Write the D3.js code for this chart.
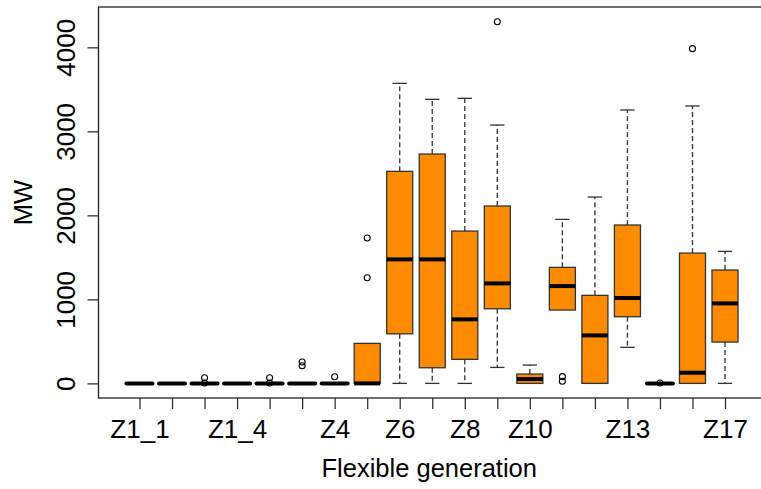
<!DOCTYPE html>
<html>
<head>
<meta charset="utf-8">
<script src="https://cdn.jsdelivr.net/npm/d3@7"></script>
<style>
  body { margin: 0; background: #fff; }
  text { font-family: "Liberation Sans", Arial, sans-serif; fill: #000; }
</style>
</head>
<body>
<svg width="761" height="489"></svg>
<script>
// one entry per zone (MW)
const zones = ["Z1_1", "Z1_2", "Z1_3", "Z1_4", "Z2", "Z3", "Z4", "Z5", "Z6", "Z7",
               "Z8", "Z9", "Z10", "Z11", "Z12", "Z13", "Z14", "Z15", "Z17"];
const shownLabels = ["Z1_1", "Z1_4", "Z4", "Z6", "Z8", "Z10", "Z13", "Z17"];

const lowWhisker  = [0, 0, 0, 0, 0, 0, 0, 0, 0, 0, 0, 190, 0, 873, 0, 429, 0, 0, 0];
const q1          = [0, 0, 0, 0, 0, 0, 0, 0, 590, 186, 286, 888, 0, 873, 0, 793, 0, 0, 492];
const median      = [0, 0, 0, 0, 0, 0, 0, 0, 1476, 1476, 762, 1190, 51, 1158, 571, 1016, 0, 127, 952];
const q3          = [0, 0, 0, 0, 0, 0, 0, 476, 2524, 2730, 1813, 2111, 111, 1381, 1048, 1885, 0, 1551, 1349];
const highWhisker = [0, 0, 0, 0, 0, 0, 0, 476, 3571, 3381, 3393, 3075, 218, 1952, 2218, 3254, 0, 3302, 1571];
const outliers    = [[], [], [5, 67], [], [5, 67], [210, 255], [79], [1257, 1730], [], [],
                     [], [4305], [], [25, 80], [], [], [5], [3984], []];

const yTicks = [0, 1000, 2000, 3000, 4000];

const svg = d3.select("svg"),
  width = +svg.attr("width"),
  height = +svg.attr("height");

const plot = {left: 98.5, right: 766, top: 7, bottom: 398};

const x = d3.scaleLinear()
  .domain([-0.26, zones.length + 1.26])
  .range([plot.left, plot.right]);

const y = d3.scaleLinear()
  .domain([-174, 4480])
  .range([plot.bottom, plot.top]);

const boxes = zones.map((name, i) => ({
  name, pos: i + 1,
  lo: lowWhisker[i], q1: q1[i], med: median[i], q3: q3[i], hi: highWhisker[i],
  out: outliers[i]
}));

const halfBox = 0.4, halfStaple = 0.22;

const g = svg.append("g");

const bx = g.selectAll(".box")
  .data(boxes)
  .join("g")
  .attr("class", "box");

// whiskers
bx.filter(d => d.hi > d.q3)
  .append("line")
  .attr("x1", d => x(d.pos)).attr("x2", d => x(d.pos))
  .attr("y1", d => y(d.q3)).attr("y2", d => y(d.hi))
  .attr("stroke", "#333").attr("stroke-width", 1.3).attr("stroke-dasharray", "5,3");
bx.filter(d => d.lo < d.q1)
  .append("line")
  .attr("x1", d => x(d.pos)).attr("x2", d => x(d.pos))
  .attr("y1", d => y(d.q1)).attr("y2", d => y(d.lo))
  .attr("stroke", "#333").attr("stroke-width", 1.3).attr("stroke-dasharray", "5,3");

// staples
bx.filter(d => d.hi > d.q3)
  .append("line")
  .attr("x1", d => x(d.pos - halfStaple)).attr("x2", d => x(d.pos + halfStaple))
  .attr("y1", d => y(d.hi)).attr("y2", d => y(d.hi))
  .attr("stroke", "#333").attr("stroke-width", 1.3);
bx.filter(d => d.lo < d.q1)
  .append("line")
  .attr("x1", d => x(d.pos - halfStaple)).attr("x2", d => x(d.pos + halfStaple))
  .attr("y1", d => y(d.lo)).attr("y2", d => y(d.lo))
  .attr("stroke", "#333").attr("stroke-width", 1.3);

// boxes
bx.filter(d => d.q3 > d.q1)
  .append("rect")
  .attr("x", d => x(d.pos - halfBox))
  .attr("width", d => x(d.pos + halfBox) - x(d.pos - halfBox))
  .attr("y", d => y(d.q3))
  .attr("height", d => y(d.q1) - y(d.q3))
  .attr("fill", "#ff8c00")
  .attr("stroke", "#333")
  .attr("stroke-width", 1.3);

// outliers
bx.selectAll("circle")
  .data(d => d.out.map(v => ({pos: d.pos, v})))
  .join("circle")
  .attr("cx", d => x(d.pos))
  .attr("cy", d => y(d.v))
  .attr("r", 3)
  .attr("fill", "none")
  .attr("stroke", "#000")
  .attr("stroke-width", 1.1);

// medians
bx.append("line")
  .attr("x1", d => x(d.pos - halfBox)).attr("x2", d => x(d.pos + halfBox))
  .attr("y1", d => y(d.med)).attr("y2", d => y(d.med))
  .attr("stroke", "#000")
  .attr("stroke-width", 4)
  .attr("stroke-linecap", d => d.q3 > d.q1 ? "butt" : "round");

// frame
svg.append("rect")
  .attr("x", plot.left).attr("y", plot.top)
  .attr("width", plot.right - plot.left)
  .attr("height", plot.bottom - plot.top)
  .attr("fill", "none")
  .attr("stroke", "#222")
  .attr("stroke-width", 1.3);

// x axis
const xAxis = svg.append("g")
  .attr("transform", `translate(0,${plot.bottom})`)
  .call(d3.axisBottom(x)
    .tickValues(d3.range(1, zones.length + 1))
    .tickSize(11)
    .tickFormat(i => shownLabels.includes(zones[i - 1]) ? zones[i - 1] : ""));
xAxis.select(".domain").remove();
xAxis.selectAll(".tick line").attr("stroke", "#333").attr("stroke-width", 1.3);
xAxis.selectAll("text")
  .attr("y", 40).attr("dy", null)
  .attr("font-size", 26)
  .attr("fill", "#000");

// y axis
const yAxis = svg.append("g")
  .attr("transform", `translate(${plot.left},0)`)
  .call(d3.axisLeft(y).tickValues(yTicks).tickSize(11).tickFormat(d3.format("d")));
yAxis.select(".domain").remove();
yAxis.selectAll(".tick line").attr("stroke", "#333").attr("stroke-width", 1.3);
yAxis.selectAll("text")
  .attr("x", null).attr("dy", null)
  .attr("text-anchor", "middle")
  .attr("transform", "translate(-24,0) rotate(-90)")
  .attr("font-size", 26)
  .attr("fill", "#000");

// axis titles
svg.append("text")
  .attr("x", (plot.left + 760) / 2)
  .attr("y", 477)
  .attr("text-anchor", "middle")
  .attr("font-size", 25.5)
  .text("Flexible generation");

svg.append("text")
  .attr("transform", `translate(32,${(plot.top + plot.bottom) / 2}) rotate(-90)`)
  .attr("text-anchor", "middle")
  .attr("font-size", 25.5)
  .text("MW");
</script>
</body>
</html>
